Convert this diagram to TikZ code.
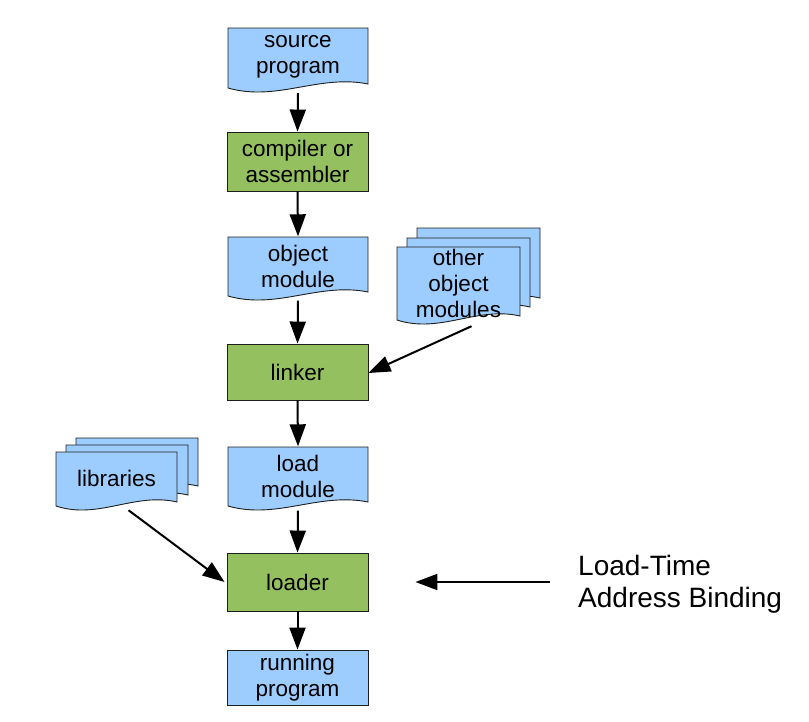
\documentclass[tikz,border=0pt]{standalone}
\usepackage{fontspec}
\setmainfont{Liberation Sans}
\usetikzlibrary{arrows.meta}
\definecolor{docblue}{RGB}{157,205,255}
\definecolor{boxgreen}{RGB}{148,192,96}
\definecolor{edge}{RGB}{30,30,30}
\tikzset{
  docfill/.style={fill=docblue,draw=edge,line width=0.9pt},
  txt/.style={inner sep=0pt,align=center,font=\fontsize{22.5}{26}\selectfont},
  greenbox/.style={txt,fill=boxgreen,draw=edge,line width=0.9pt},
  bluebox/.style={txt,fill=docblue,draw=edge,line width=0.9pt},
  conn/.style={line width=2pt,-{Triangle[length=22pt,width=16pt]}},
}
% document shape: x1, ytop, x2, ybottom(left)
\newcommand\docshape[4]{%
  \filldraw[docfill] (#1,#2) -- (#3,#2) -- (#3,#4-4)
    .. controls ({#1+0.65*(#3-#1)},#4-14) and ({#1+0.35*(#3-#1)},#4+14) .. (#1,#4) -- cycle;}
\begin{document}
\begin{tikzpicture}[x=1pt,y=-1pt]
\useasboundingbox (0,0) rectangle (809,721);

% main column
\docshape{228}{28}{368}{88}
\node[txt,minimum width=140pt,minimum height=60pt] (src) at (298,57) {source\\program};
\node[greenbox,minimum width=141pt,minimum height=59pt] (comp) at (297.5,161.5) {compiler or\\assembler};
\docshape{228}{237}{368}{296}
\node[txt,minimum width=140pt,minimum height=59pt] (obj) at (298,266) {object\\module};
\node[greenbox,minimum width=141pt,minimum height=56pt] (link) at (297.5,372) {linker};
\docshape{228}{447}{368}{506}
\node[txt,minimum width=140pt,minimum height=59pt] (load) at (298,476) {load\\module};
\node[greenbox,minimum width=141pt,minimum height=58pt] (ldr) at (297.5,582) {loader};
\node[bluebox,minimum width=141pt,minimum height=55pt] (run) at (297.5,677.5) {running\\program};

% other object modules stack
\docshape{417}{228}{540}{302}
\docshape{407}{238}{530}{311}
\docshape{397}{247}{520}{320}
\node[txt,minimum width=123pt,minimum height=73pt] (oth) at (458.5,283.5) {other\\object\\modules};

% libraries stack
\docshape{76}{438}{198}{490}
\docshape{66}{445}{188}{499}
\docshape{56}{452}{177}{506}
\node[txt,minimum width=121pt,minimum height=54pt] (lib) at (116.5,478) {libraries};

% side label
\node[inner sep=0pt,anchor=west,align=left,font=\fontsize{28}{32}\selectfont] (bind) at (578,584) {Load-Time\\Address Binding};

% connectors
\draw[conn] ([yshift=-6pt]src.south) -- (comp.north);
\draw[conn] (comp.south) -- (obj.north);
\draw[conn] ([yshift=-5pt]obj.south) -- (link.north);
\draw[conn] ([shift={(13pt,-6pt)}]oth.south) -- ([yshift=-1pt]link.east);
\draw[conn] (link.south) -- (load.north);
\draw[conn] ([yshift=-5pt]load.south) -- (ldr.north);
\draw[conn] ([shift={(12pt,-5pt)}]lib.south) -- ([xshift=-2pt]ldr.west);
\draw[conn] (ldr.south) -- (run.north);
\draw[conn] ([xshift=-28pt]bind.west |- ldr.east) -- ([xshift=47pt]ldr.east);
\end{tikzpicture}
\end{document}
